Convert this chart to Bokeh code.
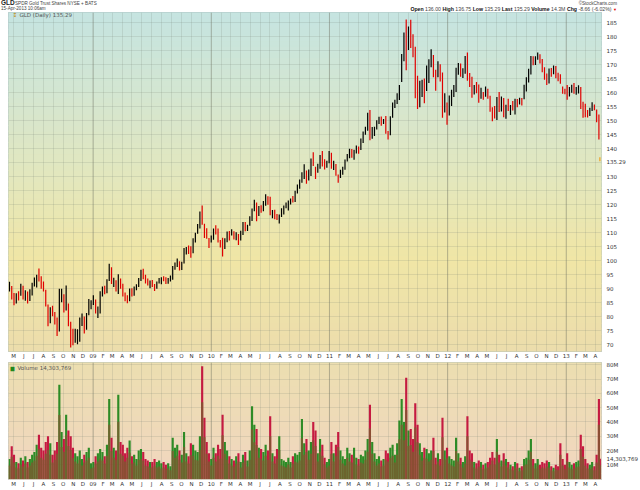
import pandas as pd
from bokeh.plotting import figure
from bokeh.models import FixedTicker, Span, Label, Range1d, ColumnDataSource, Div
from bokeh.layouts import column
from bokeh.embed import file_html
from bokeh.resources import INLINE

# ---------------- data (weekly) ----------------
close08 = [90.6, 86.9, 84.6, 87.7, 87.1, 90.8, 86.9, 88.8, 85.3, 88.6, 91.3, 92.0, 94.4, 93.9, 91.0, 89.6, 84.0, 78.0, 82.0,
           81.6, 79.4, 74.5, 85.4, 86.8, 82.1, 83.5, 77.8, 71.4, 70.9, 72.5, 72.8, 78.7, 79.8, 74.7, 80.3, 83.2, 85.0]
high08 = [92.3, 90.8, 88.3, 88.2, 88.9, 91.6, 90.9, 89.3, 88.8, 89.6, 91.9, 93.8, 94.8, 97.0, 94.3, 92.4, 89.4, 84.2, 83.2,
          83.7, 81.5, 79.5, 89.8, 89.8, 87.8, 91.0, 84.5, 78.0, 75.5, 75.5, 75.3, 79.5, 81.0, 79.9, 81.1, 86.1, 85.7]
low08 = [88.8, 86.0, 83.9, 84.5, 85.6, 87.3, 86.0, 85.5, 84.5, 85.4, 87.4, 90.6, 90.2, 92.4, 89.8, 88.8, 83.5, 76.4, 77.5,
         80.0, 77.0, 72.9, 74.5, 85.0, 81.3, 82.0, 76.4, 68.8, 69.6, 70.5, 70.0, 70.9, 76.5, 73.8, 75.2, 80.3, 82.5]
vol08 = [14, 23, 17, 12, 11, 15, 13, 16, 12, 14, 17, 19, 24, 31, 22, 20, 26, 30, 25,
         17, 20, 26, 66, 33, 28, 45, 34, 30, 22, 18, 16, 20, 14, 17, 19, 22, 11]

close09 = [86.6, 82.4, 82.5, 88.6, 90.1, 89.0, 92.4, 97.8, 92.2, 92.7, 90.2, 93.4, 90.5, 88.0, 86.5, 85.1, 89.7,
           87.6, 89.8, 90.9, 93.1, 96.3, 93.8, 92.8, 91.6, 92.0, 90.7, 89.9, 91.8, 93.2, 93.4, 93.0, 92.4, 93.1, 93.8,
           97.6, 98.3, 99.4, 97.3, 97.8, 103.8, 103.9, 103.7, 102.4, 107.5, 109.3, 112.3, 114.2, 113.6, 109.0, 108.6, 107.0]
high09 = [87.5, 86.0, 83.5, 88.9, 90.6, 90.9, 93.2, 98.7, 97.5, 93.7, 92.8, 95.0, 93.5, 91.6, 88.5, 87.5, 89.9,
          90.0, 90.6, 91.4, 93.6, 96.6, 96.9, 94.8, 93.5, 92.7, 92.9, 91.5, 92.4, 93.6, 93.9, 94.3, 93.9, 93.6, 94.5,
          97.9, 99.2, 100.6, 99.6, 99.4, 104.3, 104.7, 105.2, 105.0, 107.8, 109.8, 112.9, 117.4, 119.5, 113.0, 111.4, 107.9]
low09 = [84.0, 81.0, 79.4, 81.0, 87.0, 87.8, 88.2, 92.6, 91.5, 90.4, 88.8, 87.9, 89.8, 87.0, 85.3, 84.6, 85.3,
         87.0, 87.3, 89.3, 90.4, 92.6, 93.2, 91.7, 91.0, 90.0, 90.4, 89.0, 89.8, 91.7, 91.4, 92.5, 91.5, 91.6, 92.4,
         93.0, 96.6, 97.6, 96.3, 96.5, 98.8, 102.0, 102.2, 100.9, 102.5, 106.3, 109.4, 111.3, 112.6, 107.9, 107.6, 104.3]
vol09 = [12, 16, 18, 21, 19, 16, 24, 56, 29, 22, 20, 59, 26, 24, 18, 22, 27,
         16, 17, 14, 20, 21, 19, 14, 13, 12, 12, 14, 12, 13, 11, 12, 10, 11, 9,
         29, 22, 24, 20, 17, 33, 18, 16, 25, 24, 20, 19, 30, 79, 43, 26, 18]

close10 = [107.3, 110.9, 110.2, 106.7, 105.0, 103.3, 106.6, 109.9, 109.4, 110.2, 108.1, 108.6, 107.6,
           109.7, 113.4, 110.8, 111.9, 115.4, 117.9, 120.2, 115.0, 118.9, 118.1, 119.6, 122.6, 121.7,
           116.5, 116.9, 115.6, 115.1, 115.5, 117.9, 118.8, 119.9, 120.3, 121.7, 121.3, 124.1, 126.6,
           128.5, 130.9, 131.6, 129.4, 131.2, 135.6, 134.6, 131.5, 132.8, 137.0, 134.5, 134.1, 134.9, 138.7]
high10 = [108.8, 111.3, 112.5, 111.3, 107.2, 108.0, 107.8, 110.2, 110.4, 111.0, 110.3, 110.0, 109.3,
          110.5, 113.6, 113.6, 112.6, 115.7, 118.4, 121.6, 120.6, 119.3, 119.6, 121.1, 123.5, 122.8,
          122.6, 117.9, 118.0, 116.5, 116.3, 118.5, 119.5, 120.6, 121.3, 122.0, 122.9, 124.8, 127.0,
          128.8, 131.4, 134.2, 132.0, 132.4, 136.3, 138.5, 133.3, 134.4, 137.5, 139.0, 136.0, 135.5, 139.0]
low10 = [106.3, 107.3, 109.2, 106.3, 104.5, 101.3, 104.0, 106.4, 107.0, 108.8, 107.4, 107.1, 105.4,
         107.0, 109.0, 110.3, 110.4, 112.3, 114.0, 117.5, 113.9, 115.8, 116.9, 117.5, 119.4, 119.8,
         116.0, 115.0, 114.6, 114.3, 113.1, 115.4, 116.3, 118.5, 117.7, 119.9, 120.6, 120.8, 123.8,
         125.5, 127.6, 129.0, 127.3, 128.4, 130.0, 133.6, 129.0, 131.2, 132.6, 133.4, 132.4, 133.0, 134.6]
vol10 = [14, 22, 18, 24, 21, 45, 26, 20, 16, 14, 13, 16, 18,
         12, 17, 19, 13, 20, 51, 38, 35, 22, 21, 19, 24, 20,
         44, 18, 16, 21, 30, 14, 13, 12, 15, 12, 16, 18, 17,
         19, 42, 25, 28, 20, 26, 40, 34, 18, 28, 24, 15, 12, 14]

close11 = [133.8, 133.9, 130.9, 129.6, 131.2, 132.7, 135.7, 137.5, 139.5, 138.0, 138.9, 140.2,
           139.8, 143.0, 145.4, 146.8, 152.4, 145.0, 145.0, 146.8, 149.6, 150.7, 149.0, 149.6, 146.0,
           144.8, 151.0, 155.9, 156.3, 159.3, 161.6, 170.0, 180.4, 175.5, 182.7, 180.9, 175.3, 159.6, 158.1,
           159.4, 163.6, 159.7, 168.8, 171.2, 172.8, 167.4, 164.3, 169.3, 166.5, 154.7, 156.9, 152.0]
high11 = [138.3, 135.5, 134.3, 130.6, 132.3, 133.3, 135.9, 137.9, 139.8, 139.7, 139.4, 140.9,
          140.6, 143.4, 145.9, 147.6, 152.6, 153.6, 147.5, 147.6, 149.9, 151.2, 151.3, 150.4, 151.5,
          146.1, 151.4, 156.3, 157.3, 159.6, 162.5, 173.6, 181.3, 185.9, 183.4, 185.8, 180.6, 176.2, 165.8,
          164.0, 164.4, 164.8, 169.5, 171.7, 175.3, 173.2, 168.0, 171.0, 169.9, 167.0, 159.6, 156.3]
low11 = [132.6, 132.2, 130.1, 127.6, 129.3, 130.5, 132.3, 135.2, 136.4, 136.6, 135.8, 138.1,
         138.0, 139.3, 141.8, 144.8, 146.2, 142.8, 143.3, 144.3, 146.6, 148.6, 148.0, 148.6, 145.1,
         143.1, 144.6, 150.8, 154.3, 155.7, 157.2, 163.6, 171.0, 167.8, 175.0, 175.7, 172.4, 157.8, 154.0,
         154.6, 158.2, 156.0, 160.4, 163.2, 168.9, 165.3, 160.5, 165.3, 163.8, 150.8, 152.7, 148.3]
vol11 = [26, 18, 24, 33, 20, 16, 14, 22, 18, 17, 22, 15,
         14, 17, 16, 20, 28, 52, 26, 18, 14, 16, 13, 14, 20,
         18, 22, 24, 17, 25, 41, 56, 40, 71, 34, 35, 28, 53, 38,
         25, 19, 22, 21, 18, 20, 29, 15, 18, 14, 43, 20, 22]

close12 = [157.2, 159.5, 161.5, 167.1, 168.0, 167.6, 167.8, 172.4, 165.0, 164.6, 159.8, 161.4, 161.0,
           158.4, 160.3, 158.7, 161.5, 159.0, 154.4, 153.4, 152.2, 157.7, 154.5, 157.6, 152.0, 155.0,
           154.4, 154.8, 153.9, 157.1, 156.6, 157.2, 156.9, 161.4, 164.8, 168.0, 172.7, 171.2, 172.1,
           173.8, 171.4, 167.6, 165.4, 163.3, 167.8, 167.6, 168.9, 165.9, 164.7, 164.5, 161.3, 159.9]
high12 = [158.8, 160.8, 162.5, 168.7, 170.4, 170.2, 168.5, 172.9, 174.1, 166.8, 165.5, 162.5, 163.6,
          162.7, 161.5, 160.0, 162.0, 161.2, 158.7, 154.6, 155.0, 158.2, 160.0, 158.4, 157.9, 155.5,
          157.6, 155.4, 156.8, 157.6, 157.5, 158.0, 157.9, 162.6, 165.3, 168.3, 172.9, 172.8, 172.8,
          174.1, 173.5, 171.8, 168.9, 166.6, 168.4, 168.6, 169.5, 169.3, 166.9, 166.4, 162.0, 161.2]
low12 = [151.6, 155.0, 158.2, 160.0, 166.2, 165.5, 165.0, 166.5, 164.0, 161.8, 158.0, 159.1, 159.6,
         156.2, 157.6, 157.3, 158.3, 157.6, 153.0, 149.6, 150.6, 150.0, 152.9, 153.1, 151.0, 150.5,
         153.2, 151.8, 153.4, 152.0, 154.6, 155.6, 155.2, 157.4, 160.2, 163.4, 166.3, 169.6, 169.7,
         171.5, 170.2, 167.1, 164.4, 162.5, 163.1, 165.5, 166.4, 164.9, 163.9, 163.0, 159.4, 159.2]
vol12 = [16, 14, 13, 29, 18, 15, 12, 16, 44, 20, 18, 12, 11,
         13, 12, 10, 11, 12, 15, 19, 15, 28, 17, 13, 18, 14,
         12, 10, 9, 12, 11, 8, 9, 14, 15, 20, 28, 14, 11,
         14, 10, 12, 11, 13, 12, 9, 8, 10, 9, 25, 14, 10]

close13 = [158.0, 160.9, 162.1, 160.0, 161.2, 161.3, 155.4, 153.8, 152.9, 152.0, 153.7, 155.6, 154.5, 152.6, 143.9, 135.29]
high13 = [162.5, 161.8, 162.6, 163.2, 161.8, 162.4, 161.8, 156.5, 155.8, 153.6, 154.4, 156.4, 155.6, 153.8, 152.0, 136.75]
low13 = [157.3, 158.4, 159.8, 159.4, 159.0, 159.5, 154.0, 150.8, 151.0, 150.9, 151.5, 153.2, 153.5, 149.2, 143.1, 135.29]
vol13 = [18, 12, 10, 11, 12, 13, 31, 23, 14, 11, 10, 12, 9, 17, 56, 14.3]

last_price = 135.29
last_volume = 14.303769
price_ticks = list(range(70, 190, 5))
volume_ticks = [10, 20, 30, 40, 50, 60, 70, 80]
volume_tick_labels = ["10M", "20M", "30M", "40M", "50M", "60M", "70M", "80M"]
month_letters = ["J", "F", "M", "A", "M", "J", "J", "A", "S", "O", "N", "D"]

# ---------------- assemble ----------------
closes = close08 + close09 + close10 + close11 + close12 + close13
highs = high08 + high09 + high10 + high11 + high12 + high13
lows = low08 + low09 + low10 + low11 + low12 + low13
vols = vol08 + vol09 + vol10 + vol11 + vol12 + vol13

origin = pd.Timestamp("2008-01-01")
dates = list(pd.date_range("2008-04-18", "2013-04-12", freq="W-FRI")) + [pd.Timestamp("2013-04-15")]
xs = [(d - origin).days for d in dates]
assert len(xs) == len(closes) == len(highs) == len(lows) == len(vols)

pcol, vcol = [], []
for i, c in enumerate(closes):
    up = i == 0 or c >= closes[i - 1]
    pcol.append("#000000" if up else "#e00000")
    vcol.append("#23871d" if up else "#c2103a")
pcol[-1] = "#f0a020"
vmid = [v * 0.68 for v in vols]   # two-tone bar styling: brown body, coloured tip

src = ColumnDataSource(dict(x=xs, high=highs, low=lows, vol=vols, vmid=vmid, pc=pcol, vc=vcol))

months = pd.date_range("2008-05-01", "2013-04-01", freq="MS")
mticks = [(d - origin).days for d in months]
mlabels = {t: (d.strftime("%y") if d.month == 1 else month_letters[d.month - 1]) for t, d in zip(mticks, months)}
year_days = [(d - origin).days for d in months if d.month == 1]

X0, X1 = 105, 1936
FONT = "DejaVu Sans"


def mix(stops, f):
    for (f0, c0), (f1, c1) in zip(stops[:-1], stops[1:]):
        if f0 <= f <= f1:
            t = (f - f0) / (f1 - f0) if f1 > f0 else 0
            return "#%02x%02x%02x" % tuple(int(round(a + (b - a) * t)) for a, b in zip(c0, c1))
    return "#%02x%02x%02x" % stops[-1][1]


def gradient(p, y0, y1, stops, n):
    h = (y1 - y0) / n
    bottoms = [y0 + i * h for i in range(n)]
    tops = [b + h * 1.03 for b in bottoms]
    cols = [mix(stops, 1 - (b + h / 2 - y0) / (y1 - y0)) for b in bottoms]
    p.quad(left=X0, right=X1, bottom=bottoms, top=tops, color=cols, level="image")


def style_axes(p, grid_ticks):
    p.xaxis.ticker = FixedTicker(ticks=mticks)
    p.xaxis.major_label_overrides = mlabels
    for ax in (p.xaxis[0], p.yaxis[0]):
        ax.major_label_text_font = FONT
        ax.major_label_text_font_size = "5.5px"
        ax.major_label_text_color = "#333333"
        ax.major_tick_line_color = None
        ax.major_tick_out = 0
        ax.major_tick_in = 0
        ax.minor_tick_line_color = None
        ax.minor_tick_out = 0
        ax.axis_line_color = None
    p.xaxis.major_label_standoff = 1
    p.yaxis.major_label_standoff = 5
    p.xgrid.ticker = FixedTicker(ticks=mticks)
    p.ygrid.ticker = FixedTicker(ticks=grid_ticks)
    p.grid.grid_line_color = "#6f7f70"
    p.grid.grid_line_alpha = 0.17
    for t in year_days:
        p.add_layout(Span(location=t, dimension="height", line_color="#6a6a5a", line_alpha=0.35, line_width=1,
                          level="underlay"))


def lab(p, x, y, text, size="5.5px", color="#333333", font=FONT):
    p.add_layout(Label(x=x, y=y, x_units="screen", y_units="screen", text=text, text_font=font,
                       text_font_size=size, text_color=color, text_align="left", text_baseline="middle"))


# ---------------- header ----------------
header_html = (
    '<div style="position:relative;width:640px;height:12px;overflow:visible;'
    'font-family:\'Liberation Sans\',Arial,sans-serif;color:#444;white-space:nowrap;">'
    '<span style="position:absolute;left:1px;top:0px;font-size:6.5px;line-height:6px;font-weight:bold;color:#222;">GLD</span>'
    '<span style="position:absolute;left:15px;top:0.5px;font-size:4.6px;line-height:5px;">SPDR Gold Trust Shares NYSE + BATS</span>'
    '<span style="position:absolute;left:1px;top:6px;font-size:4.6px;line-height:5px;">15-Apr-2013 10:06am</span>'
    '<span style="position:absolute;right:23px;top:0.5px;font-size:4.6px;line-height:5px;">\u00a9StockCharts.com</span>'
    '<span style="position:absolute;right:23px;top:5.5px;font-size:5.2px;line-height:6px;">'
    '<b style="color:#111">Open</b> 136.00 <b style="color:#111">High</b> 136.75 <b style="color:#111">Low</b> 135.29 '
    '<b style="color:#111">Last</b> 135.29 <b style="color:#111">Volume</b> 14.3M <b style="color:#111">Chg</b> '
    '-8.66 (-6.02%) <span style="color:#e00000;font-size:4px;">\u25bc</span></span>'
    '</div>'
)
header = Div(text=header_html, width=640, height=12, styles={"margin": "0", "padding": "0"})

# ---------------- price panel ----------------
p1 = figure(width=640, height=349, x_range=Range1d(X0, X1), y_range=Range1d(67.4, 188.4),
            y_axis_location="right", toolbar_location=None, output_backend="svg",
            min_border_left=8, min_border_right=22, min_border_top=0, min_border_bottom=7,
            border_fill_color="white", background_fill_color="#e4e6c0", outline_line_color="#a6b8bc")
gradient(p1, 67.4, 188.4, [(0.0, (197, 228, 225)), (0.25, (212, 230, 208)), (0.5, (228, 231, 188)),
                            (0.72, (240, 230, 166)), (1.0, (236, 221, 172))], 60)
axis_price_ticks = [t for t in price_ticks if t != 135] + [last_price]
p1.yaxis.ticker = FixedTicker(ticks=axis_price_ticks)
p1.yaxis.major_label_overrides = {t: (f"{t:.2f}" if t == last_price else str(t)) for t in axis_price_ticks}
style_axes(p1, price_ticks)
p1.segment(x0="x", y0="low", x1="x", y1="high", line_color="pc", line_width=1.2, source=src)
lab(p1, 4, 337, "\u2195", size="6px", color="#c08a20")
lab(p1, 11, 337, "GLD (Daily) 135.29", size="5.5px", color="#555555")

# ---------------- volume panel ----------------
p2 = figure(width=640, height=128, x_range=p1.x_range, y_range=Range1d(-0.3, 81.6),
            y_axis_location="right", toolbar_location=None, output_backend="svg",
            min_border_left=8, min_border_right=22, min_border_top=1, min_border_bottom=8,
            border_fill_color="white", background_fill_color="#eedcb8", outline_line_color="#a6b8bc")
gradient(p2, -0.3, 81.6, [(0.0, (236, 222, 176)), (1.0, (241, 214, 192))], 20)
axis_vol_ticks = volume_ticks + [last_volume]
p2.yaxis.ticker = FixedTicker(ticks=axis_vol_ticks)
p2.yaxis.major_label_overrides = dict(zip(axis_vol_ticks, volume_tick_labels + ["14,303,769"]))
style_axes(p2, volume_ticks)
p2.vbar(x="x", top="vol", bottom=0, width=6.6, fill_color="vc", line_color=None, fill_alpha=0.95, source=src)
p2.vbar(x="x", top="vmid", bottom=0, width=6.6, fill_color="#7c5a30", line_color=None, fill_alpha=0.8, source=src)
lab(p2, 2, 112, "\u2586", size="5px", color="#23871d")
lab(p2, 9, 112, "Volume 14,303,769", size="5.5px", color="#555555")

layout = column(header, p1, p2, spacing=0)
open("out.html", "w").write(file_html(layout, INLINE, "GLD"))
